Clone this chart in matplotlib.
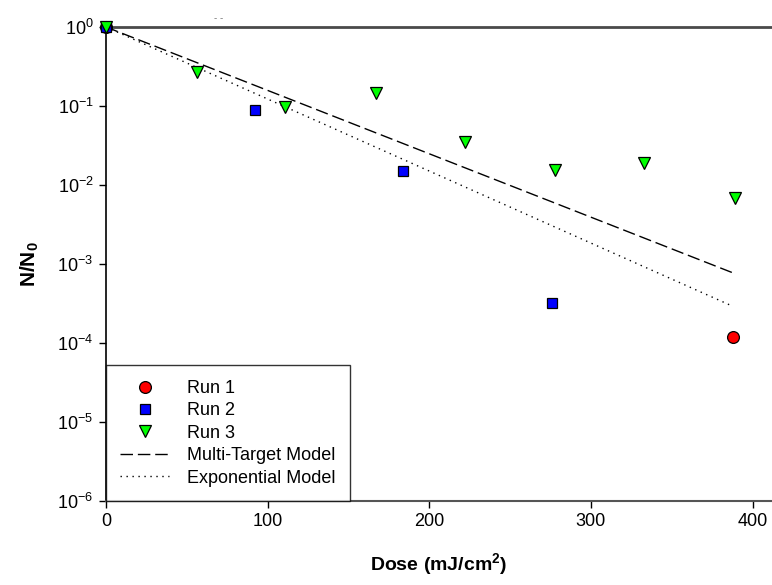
import math
import matplotlib
matplotlib.use("Agg")
import matplotlib.pyplot as plt
from matplotlib.ticker import FixedLocator, NullLocator, FuncFormatter

plt.rcParams["font.family"] = ["Liberation Sans", "DejaVu Sans"]
plt.rcParams["mathtext.fontset"] = "custom"
plt.rcParams["mathtext.rm"] = "Liberation Sans"
plt.rcParams["mathtext.it"] = "Liberation Sans:italic"
plt.rcParams["mathtext.bf"] = "Liberation Sans:bold"
plt.rcParams["mathtext.default"] = "regular"

# Survival data (dose in mJ/cm^2, surviving fraction N/N0)
run1_dose = [0, 388]
run1_surv = [1.0, 1.2e-4]

run2_dose = [0, 92, 184, 276]
run2_surv = [1.0, 0.089, 0.015, 3.2e-4]

run3_dose = [0, 56, 111, 167, 222, 278, 333, 389]
run3_surv = [1.0, 0.27, 0.097, 0.146, 0.035, 0.0155, 0.019, 0.0068]

# Fitted model lines
model_dose = [0, 388]
multi_target = [1.0, 7.7e-4]
exponential = [1.0, 2.9e-4]

x_ticks = [0, 100, 200, 300, 400]
y_ticks = [1e-6, 1e-5, 1e-4, 1e-3, 1e-2, 1e-1, 1e0]

fig = plt.figure(figsize=(7.72, 5.85), dpi=100)
ax = fig.add_axes([106 / 772, 1 - 501 / 585, 1 - 106 / 772, (501 - 27) / 585])

ax.plot(model_dose, multi_target, color="black", lw=1.0, dashes=(9, 3.5),
        label="Multi-Target Model", zorder=2)
ax.plot(model_dose, exponential, color="black", lw=1.0, dashes=(1, 3.3),
        label="Exponential Model", zorder=2)

ax.plot(run1_dose, run1_surv, ls="none", marker="o", ms=8.5, mfc="#ff0000",
        mec="black", mew=0.9, label="Run 1", zorder=7, clip_on=False)
ax.plot(run2_dose, run2_surv, ls="none", marker="s", ms=7.5, mfc="#0000ff",
        mec="black", mew=0.9, label="Run 2", zorder=8, clip_on=False)
ax.plot(run3_dose, run3_surv, ls="none", marker="v", ms=9, mfc="#00ff00",
        mec="black", mew=0.9, label="Run 3", zorder=9, clip_on=False)

ax.set_yscale("log")
ax.set_xlim(0, 412)
ax.set_ylim(1e-6, 1e0)

ax.xaxis.set_major_locator(FixedLocator(x_ticks))
ax.xaxis.set_minor_locator(NullLocator())
ax.yaxis.set_major_locator(FixedLocator(y_ticks))
ax.yaxis.set_minor_locator(NullLocator())


def pow_label(v, pos):
    e = int(round(math.log10(v)))
    return r"$10^{%d}$" % e


ax.yaxis.set_major_formatter(FuncFormatter(pow_label))

ax.tick_params(axis="both", direction="out", length=5, width=1, labelsize=13,
               color="black", pad=4)

ax.spines["right"].set_visible(False)
ax.spines["top"].set_color("#4a4a4a")
ax.spines["top"].set_linewidth(2.0)
ax.spines["bottom"].set_color("#555555")
ax.spines["bottom"].set_linewidth(1.5)
ax.spines["left"].set_color("black")
ax.spines["left"].set_linewidth(1.2)
for sp in ax.spines.values():
    sp.set_zorder(6)

ax.set_xlabel(r"Dose (mJ/cm$^{\mathbf{2}}$)", fontsize=14, fontweight="bold",
              labelpad=15)
ax.set_ylabel(r"N/N$_{\mathbf{0}}$", fontsize=15, fontweight="bold", labelpad=12)

handles, labels = ax.get_legend_handles_labels()
order = [2, 3, 4, 0, 1]
leg = ax.legend([handles[i] for i in order], [labels[i] for i in order],
                loc="lower left", bbox_to_anchor=(0, 0), borderaxespad=0,
                frameon=True, fancybox=False, fontsize=13, labelspacing=0.3,
                handlelength=2.7, handletextpad=1.0, borderpad=0.8)
leg.get_frame().set_edgecolor("black")
leg.get_frame().set_linewidth(1.0)
leg.set_zorder(10)

fig.text(219 / 772, 1 - 18 / 585, "- -", color="#777777", fontsize=7,
         ha="center", va="center")

fig.savefig("out.png", dpi=100)
